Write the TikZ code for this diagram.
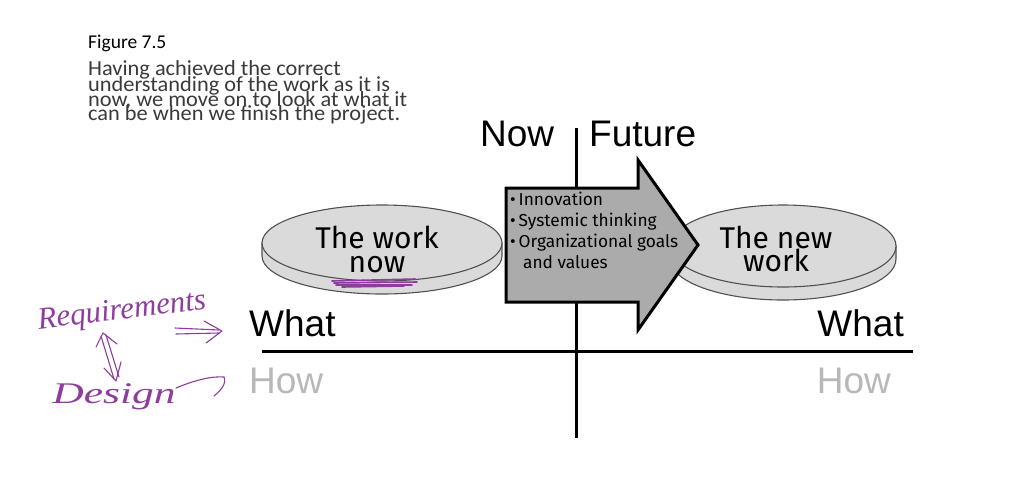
\documentclass[tikz,border=0pt]{standalone}
\usepackage{fontspec}
\setmainfont{Liberation Sans}
\newfontfamily\calfont{Carlito}
\newfontfamily\handfont{Fira Sans}
\newfontfamily\penfont{Liberation Serif}
\usetikzlibrary{arrows.meta}
\definecolor{pen}{HTML}{8E3C9E}
\definecolor{diskfill}{HTML}{DADADA}
\definecolor{diskline}{HTML}{505050}
\definecolor{arrowfill}{HTML}{ABABAB}
\definecolor{howgrey}{HTML}{B8B8B8}
\definecolor{para}{HTML}{3A3A3A}
\tikzset{
  axis/.style={line width=3pt},
  disk/.style={fill=diskfill, draw=diskline, line width=1.1pt},
  bigarrow/.style={fill=arrowfill, draw=black, line width=3pt, line join=miter},
  axlabel/.style={inner sep=0pt, anchor=base west, font=\fontsize{37}{40}\selectfont},
  paraline/.style={inner sep=0pt, anchor=base west, text=para, xscale=1.04, font=\calfont\fontsize{21.5}{15}\selectfont},
  disklabel/.style={inner sep=0pt, anchor=base, font=\handfont\fontsize{30}{30}\selectfont},
  penline/.style={draw=pen, line width=1.1pt, line cap=round, line join=round},
}
\begin{document}
\begin{tikzpicture}[x=1pt,y=-1pt]
\useasboundingbox (0,0) rectangle (1014,477);
\fill[white] (0,0) rectangle (1014,477);

% caption text
\node[inner sep=0pt, anchor=base west, font=\calfont\fontsize{19.5}{20}\selectfont] (fig) at (88,48) {Figure 7.5};
\node[paraline] (p1) at (88,75.5) {Having achieved the correct};
\node[paraline] (p2) at (88,91) {understanding of the work as it is};
\node[paraline] (p3) at (88,106) {now, we move on to look at what it};
\node[paraline] (p4) at (88,120.5) {can be when we finish the project.};

% axes
\coordinate (vtop) at (576,128);
\coordinate (vbot) at (576,438);
\coordinate (hl) at (262,351);
\coordinate (hr) at (913,351);
\draw[axis] (vtop) -- (vbot);
\draw[axis] (hl) -- (hr);

% labels on axes
\node[axlabel] (now) at (480,146) {Now};
\node[axlabel] (future) at (589,146) {Future};
\node[axlabel] (whatL) at (249,336) {What};
\node[axlabel, text=howgrey] (howL) at (249,393) {How};
\node[axlabel, anchor=base east] (whatR) at (904,336) {What};
\node[axlabel, anchor=base east, text=howgrey] (howR) at (891,393) {How};

% left disk
\filldraw[disk] (262,243) -- (262,256) arc[start angle=180, end angle=0, x radius=120, y radius=38] -- (502,243) -- cycle;
\filldraw[disk] (382,243) ellipse [x radius=120, y radius=38];
% right disk
\filldraw[disk] (670,246) -- (670,259) arc[start angle=180, end angle=0, x radius=113, y radius=41] -- (896,246) -- cycle;
\filldraw[disk] (783,246) ellipse [x radius=113, y radius=41];

\node[disklabel] (wn1) at (377,248) {The work};
\node[disklabel] (wn2) at (377,272) {now};
\node[disklabel] (nw1) at (776,248) {The new};
\node[disklabel] (nw2) at (776,271) {work};

% big arrow
\draw[bigarrow] (506,188) -- (638,188) -- (638,160) -- (698,245) -- (638,330) -- (638,302) -- (506,302) -- cycle;
\node[inner sep=0pt, anchor=north west, align=left, font=\handfont\fontsize{17.3}{21}\selectfont] (list) at (510,192)
  {\textbullet\,Innovation\\ \textbullet\,Systemic thinking\\ \textbullet\,Organizational goals\\ \hspace{0.75em}and values};

% purple handwriting
\node[inner sep=0pt, text=pen, rotate=7, font=\penfont\itshape\fontsize{31}{31}\selectfont] (req) at (122,312) {Requirements};
\node[inner sep=0pt, text=pen, xscale=1.45, font=\penfont\itshape\fontsize{30}{30}\selectfont] (des) at (114,397) {Design};

% scribble under "now"
\draw[penline, line width=1.6pt] (332,281) -- (415,279);
\draw[penline, line width=1.6pt] (334,283) -- (417,282);
\draw[penline, line width=1.6pt] (336,285) -- (412,285);
\draw[penline, line width=1.6pt] (342,287) -- (404,286);

% double arrow towards What
\draw[penline] (175,328) -- (219,330);
\draw[penline] (176,334) -- (219,333);
\draw[penline] (204,321) -- (222,331) -- (206,343);
% vertical double-headed arrow
\draw[penline] (101,336) -- (114,379);
\draw[penline] (106,335) -- (119,377);
\draw[penline] (96,347) -- (103,333) -- (117,344);
\draw[penline] (104,368) -- (116,381) -- (121,362);
% arrow from Design towards How
\draw[penline] (176,388) .. controls (195,380) and (212,376) .. (224,377) .. controls (227,384) and (220,391) .. (214,396);
\end{tikzpicture}
\end{document}
